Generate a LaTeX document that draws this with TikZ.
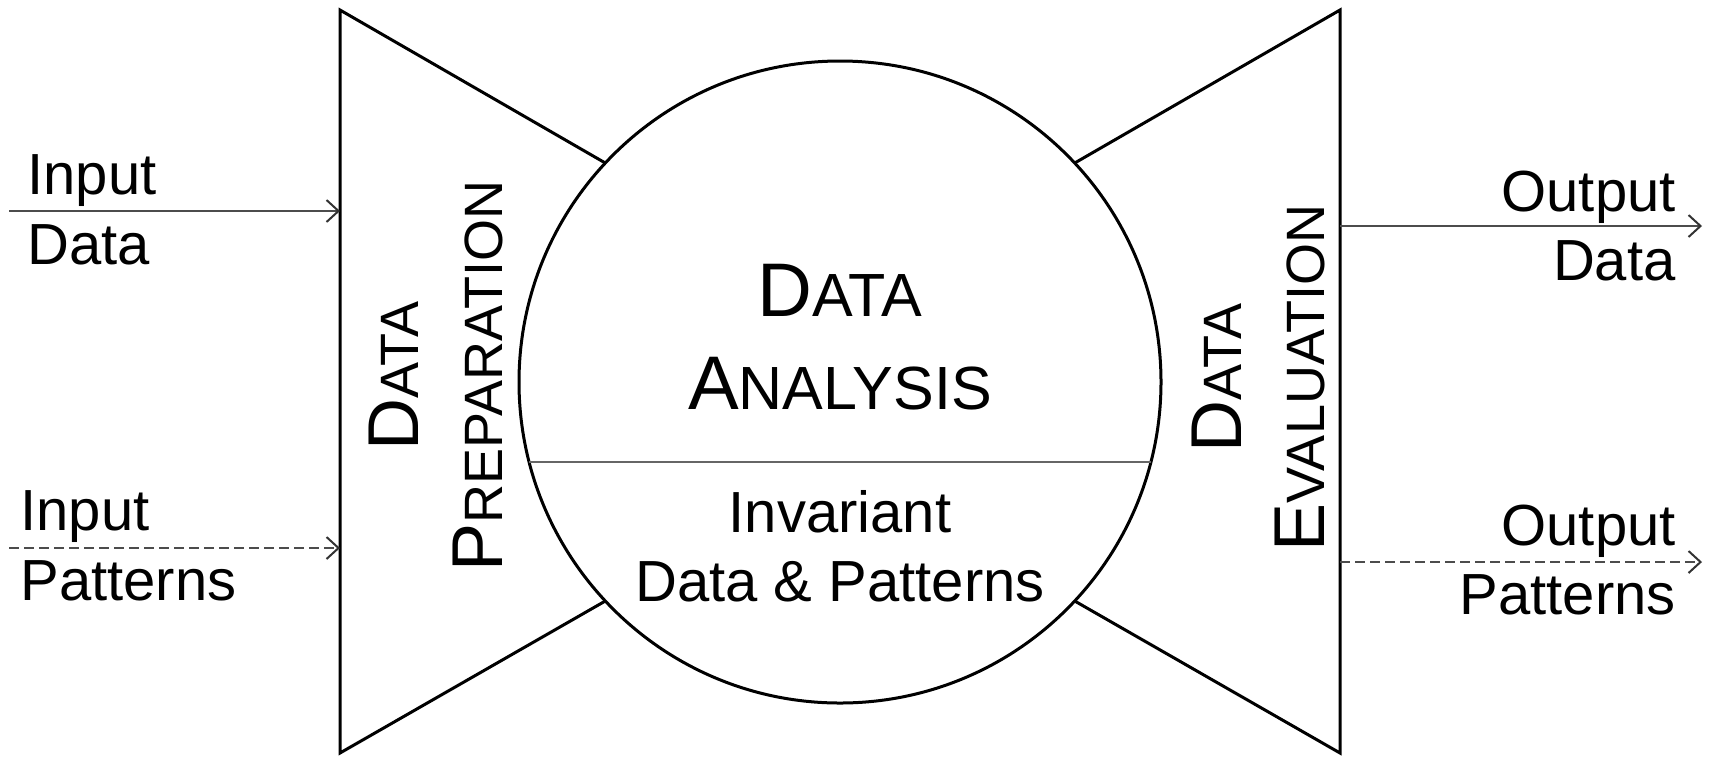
\documentclass[tikz,border=0pt]{standalone}
\usepackage{fontspec}
\setmainfont{Liberation Sans}
\usetikzlibrary{arrows.meta}
% capital letter followed by smaller capitals
\newcommand\mkcap[4]{{\fontsize{#1}{#1}\selectfont #3}{\fontsize{#2}{#2}\selectfont #4}}
\begin{document}
\begin{tikzpicture}[x=0.5pt,y=-0.5pt,
  outline/.style={line width=1.5pt, line join=miter},
  divider/.style={draw=black!60, line width=1pt},
  flow/.style={draw=black!70, line width=1pt,
    -{Straight Barb[length=6pt,width=11pt,line width=1pt,black!80]}},
  flowdash/.style={flow, dash pattern=on 5pt off 2.5pt},
  lbl/.style={font=\fontsize{29}{32}\selectfont, inner sep=0pt},
  stage/.style={inner sep=0pt, rotate=90, anchor=base},
]
\useasboundingbox (0,0) rectangle (1711,757);

% central analysis circle with its dividing chord
\coordinate (c) at (840,382);
\draw[outline] (c) circle [radius=160.5pt];
\coordinate (chordL) at (529.1,462);
\coordinate (chordR) at (1150.9,462);
\draw[divider] (chordL) -- (chordR);

% preparation funnel (left) and evaluation funnel (right)
\coordinate (pTop) at (605.3,163);
\coordinate (pBot) at (605.3,601);
\coordinate (eTop) at (1074.7,163);
\coordinate (eBot) at (1074.7,601);
\coordinate (lTop) at (340,10);
\coordinate (lBot) at (340,753);
\coordinate (rTop) at (1340,10);
\coordinate (rBot) at (1340,753);
\draw[outline] (pTop) -- (lTop) -- (lBot) -- (pBot);
\draw[outline] (eTop) -- (rTop) -- (rBot) -- (eBot);

% stage titles
\node[inner sep=0pt, anchor=base] (anaA) at (840,316) {\mkcap{38}{30.5}{D}{ATA}};
\node[inner sep=0pt, anchor=base] (anaB) at (840,409) {\mkcap{38}{30.5}{A}{NALYSIS}};
\node[lbl, anchor=base] (invA) at (840,532) {Invariant};
\node[lbl, anchor=base] (invB) at (840,601) {Data \& Patterns};

\node[stage] (prepA) at (418,376) {\mkcap{36}{27}{D}{ATA}};
\node[stage] (prepB) at (502,376) {\mkcap{36}{27}{P}{REPARATION}};
\node[stage] (evalA) at (1241,378) {\mkcap{36}{27}{D}{ATA}};
\node[stage] (evalB) at (1324,378) {\mkcap{36}{27}{E}{VALUATION}};

% inputs
\node[lbl, anchor=base west] (inDataA) at (27,194) {Input};
\node[lbl, anchor=base west] (inDataB) at (27,264) {Data};
\node[lbl, anchor=base west] (inPatA) at (20,530) {Input};
\node[lbl, anchor=base west] (inPatB) at (20,600) {Patterns};
\coordinate (inDataS) at (9,211);
\coordinate (inDataE) at (340,211);
\coordinate (inPatS) at (9,548);
\coordinate (inPatE) at (340,548);
\draw[flow] (inDataS) -- (inDataE);
\draw[flowdash] (inPatS) -- (inPatE);

% outputs
\node[lbl, anchor=base east] (outDataA) at (1676,211) {Output};
\node[lbl, anchor=base east] (outDataB) at (1676,280) {Data};
\node[lbl, anchor=base east] (outPatA) at (1676,545) {Output};
\node[lbl, anchor=base east] (outPatB) at (1676,614) {Patterns};
\coordinate (outDataS) at (1340,226);
\coordinate (outDataE) at (1702,226);
\coordinate (outPatS) at (1340,562);
\coordinate (outPatE) at (1702,562);
\draw[flow] (outDataS) -- (outDataE);
\draw[flowdash] (outPatS) -- (outPatE);
\end{tikzpicture}
\end{document}
